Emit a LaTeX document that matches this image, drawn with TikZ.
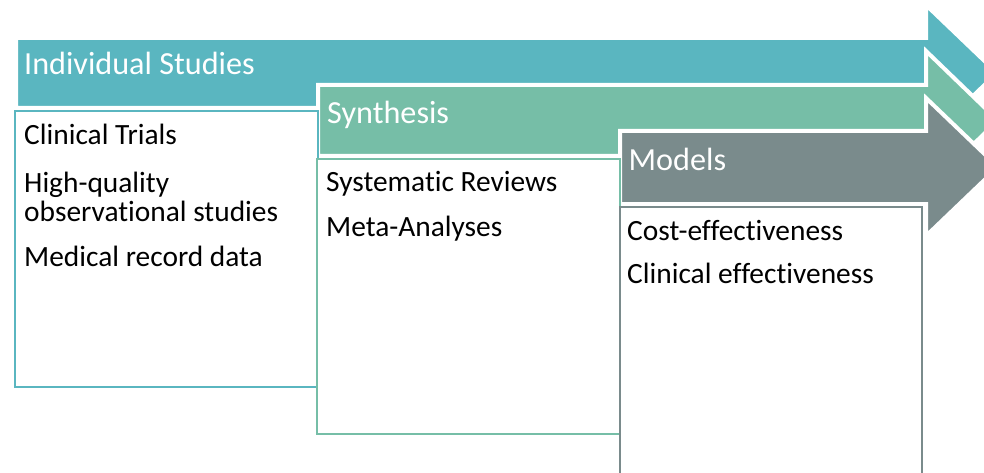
\documentclass[tikz,border=0pt]{standalone}
\usepackage{fontspec}
\setmainfont[Ligatures={NoCommon}]{Carlito}
\definecolor{stageteal}{RGB}{90,182,192}
\definecolor{stagegreen}{RGB}{118,190,167}
\definecolor{stagegrey}{RGB}{122,139,140}

\begin{document}
\begin{tikzpicture}[x=1pt,y=-1pt,
  arrowband/.style={fill=#1, draw=white, line width=4pt, line join=miter},
  listbox/.style={draw=#1, fill=white, line width=2pt},
  stagetitle/.style={text=white, anchor=base west, inner sep=0pt,
    font=\fontsize{32.2}{38}\selectfont},
  stageitem/.style={text=black, anchor=base west, inner sep=0pt,
    font=\fontsize{29.4}{35}\selectfont}]

\useasboundingbox (0,0) rectangle (984,473);
\clip (0,0) rectangle (984,473);

% three stacked process arrows, each drawn over the one before
\path[arrowband=stageteal]
  (16,38) -- (926,38) -- (926,5) -- (997,73) -- (926,141) -- (926,108) -- (16,108) -- cycle;
\path[arrowband=stagegreen]
  (318,85) -- (926,85) -- (926,51) -- (998,120.5) -- (926,190) -- (926,156) -- (318,156) -- cycle;
\path[arrowband=stagegrey]
  (620,131) -- (926,131) -- (926,98) -- (998,167) -- (926,236) -- (926,204) -- (620,204) -- cycle;

% content boxes under each stage
\path[listbox=stageteal]  (15,111)  rectangle (318,387);
\path[listbox=stagegreen] (317,159) rectangle (620,434);
\path[listbox=stagegrey]  (620,207) rectangle (922,486);

% stage titles
\node[stagetitle] (t1) at (24,74.5)   {Individual Studies};
\node[stagetitle] (t2) at (327,123.5) {Synthesis};
\node[stagetitle] (t3) at (628.5,170.7) {Models};

% stage contents
\node[stageitem] (a1) at (24,145)   {Clinical Trials};
\node[stageitem] (a2) at (24,192.5) {High-quality};
\node[stageitem] (a3) at (24,221.5) {observational studies};
\node[stageitem] (a4) at (24,266.5) {Medical record data};

\node[stageitem] (b1) at (326,191.5) {Systematic Reviews};
\node[stageitem] (b2) at (326,236)   {Meta-Analyses};

\node[stageitem] (c1) at (627,240) {Cost-effectiveness};
\node[stageitem] (c2) at (627,283) {Clinical effectiveness};
\end{tikzpicture}
\end{document}
